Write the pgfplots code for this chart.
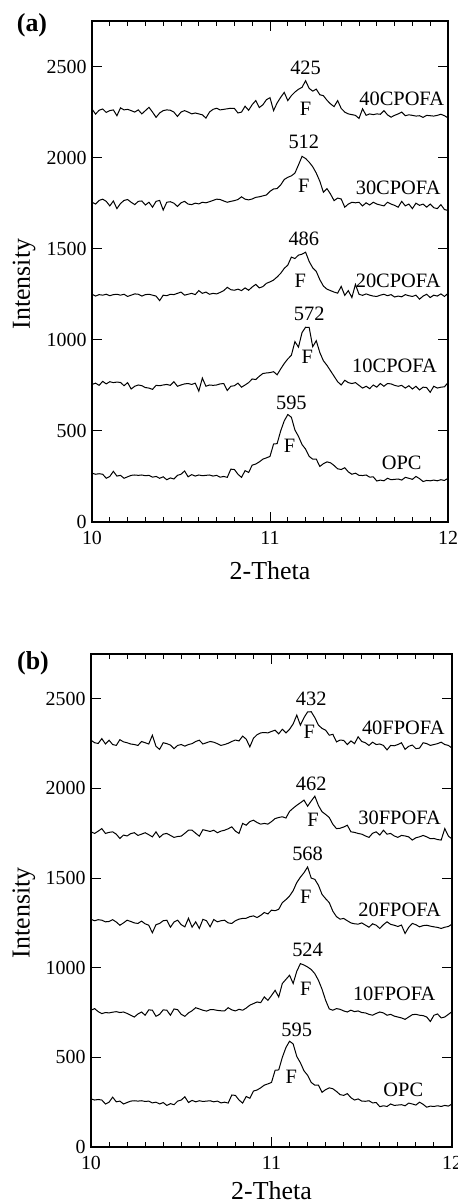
\documentclass[border=0pt]{standalone}
\usepackage{fontspec}
\setmainfont{Liberation Serif}
\usepackage{pgfplots}
\pgfplotsset{compat=1.18}

\pgfplotsset{xrd/.style={
    scale only axis, xmin=10, xmax=12, ymin=0, ymax=2750,
    xtick={10,11,12}, minor x tick num=9, ytick={0,500,...,2500},
    tick align=inside, tick pos=both,
    major tick length=10bp, minor tick length=5bp,
    axis line style={line width=1.2bp},
    every tick/.style={black, line width=1bp},
    tick label style={font=\fontsize{20}{24}\selectfont},
    /pgf/number format/assume math mode=true, /pgf/number format/1000 sep={},
    yticklabel style={xshift=-2bp}, xticklabel style={yshift=-6bp},
    xlabel={2-Theta}, ylabel={Intensity},
    clip=false,
  },
  xrdline/.style={black, line width=1bp, no markers},
}
\tikzset{lbl/.style={font=\fontsize{20.5}{24}\selectfont, inner sep=0pt},
  axlbl/.style={font=\fontsize{26}{30}\selectfont, anchor=center, inner sep=0pt}}

\begin{document}
\begin{tikzpicture}
\useasboundingbox (0,0) rectangle (458bp,1203bp);

\node[font=\fontsize{26}{30}\selectfont\bfseries] at (32bp,1178bp) {(a)};
\node[font=\fontsize{26}{30}\selectfont\bfseries] at (33bp,540bp) {(b)};

% ---------- panel (a) ----------
\begin{axis}[xrd, width=356bp, height=501bp, at={(92bp,681bp)}, anchor=south west,
    every axis x label/.style={at={(axis description cs:0.5,-0.097)}, axlbl},
    every axis y label/.style={at={(axis description cs:-0.191,0.475)}, axlbl, rotate=90}]
  % OPC
  \addplot[xrdline] coordinates {(10.00,268)(10.02,262)(10.04,265)(10.06,262)(10.08,240)(10.10,250)(10.12,278)(10.14,252)(10.16,256)(10.18,240)(10.20,248)(10.22,256)(10.24,258)(10.26,256)(10.28,258)(10.30,254)(10.32,256)(10.34,246)(10.36,250)(10.38,240)(10.40,248)(10.42,232)(10.44,242)(10.46,236)(10.48,256)(10.50,262)(10.52,280)(10.54,248)(10.56,260)(10.58,252)(10.60,258)(10.62,254)(10.64,256)(10.66,258)(10.68,252)(10.70,256)(10.72,246)(10.74,250)(10.76,245)(10.78,290)(10.80,288)(10.82,262)(10.84,245)(10.86,282)(10.88,272)(10.90,312)(10.92,318)(10.94,330)(10.96,345)(10.98,352)(11.00,360)(11.02,428)(11.04,430)(11.06,500)(11.08,555)(11.10,590)(11.12,575)(11.14,505)(11.16,470)(11.18,425)(11.20,400)(11.22,360)(11.24,345)(11.26,345)(11.28,305)(11.30,320)(11.32,330)(11.34,325)(11.36,310)(11.38,292)(11.40,288)(11.42,298)(11.44,275)(11.46,262)(11.48,268)(11.50,256)(11.52,255)(11.54,258)(11.56,246)(11.58,248)(11.60,225)(11.62,230)(11.64,226)(11.66,240)(11.68,232)(11.70,234)(11.72,236)(11.74,230)(11.76,245)(11.78,240)(11.80,234)(11.82,250)(11.84,238)(11.86,222)(11.88,228)(11.90,226)(11.92,230)(11.94,226)(11.96,232)(11.98,228)(12.00,240)};
  % 10CPOFA
  \addplot[xrdline] coordinates {(10.00,755)(10.02,762)(10.04,750)(10.06,772)(10.08,758)(10.10,770)(10.12,765)(10.14,768)(10.16,766)(10.18,748)(10.20,765)(10.22,730)(10.24,745)(10.26,752)(10.28,748)(10.30,738)(10.32,735)(10.34,728)(10.36,750)(10.38,748)(10.40,752)(10.42,755)(10.44,750)(10.46,770)(10.48,745)(10.50,752)(10.52,758)(10.54,760)(10.56,755)(10.58,762)(10.60,718)(10.62,790)(10.64,745)(10.66,752)(10.68,750)(10.70,752)(10.72,758)(10.74,760)(10.76,722)(10.78,745)(10.80,748)(10.82,762)(10.84,740)(10.86,752)(10.88,765)(10.90,785)(10.92,782)(10.94,800)(10.96,815)(10.98,818)(11.00,820)(11.02,825)(11.04,808)(11.06,840)(11.08,870)(11.10,895)(11.12,915)(11.14,990)(11.16,960)(11.18,1040)(11.20,1069)(11.22,1068)(11.24,962)(11.26,995)(11.28,930)(11.30,885)(11.32,860)(11.34,830)(11.36,800)(11.38,770)(11.40,752)(11.42,778)(11.44,765)(11.46,760)(11.48,765)(11.50,750)(11.52,735)(11.54,745)(11.56,732)(11.58,752)(11.60,740)(11.62,760)(11.64,745)(11.66,760)(11.68,758)(11.70,750)(11.72,745)(11.74,750)(11.76,735)(11.78,748)(11.80,730)(11.82,745)(11.84,725)(11.86,740)(11.88,738)(11.90,712)(11.92,745)(11.94,735)(11.96,740)(11.98,742)(12.00,765)};
  % 20CPOFA
  \addplot[xrdline] coordinates {(10.00,1250)(10.02,1240)(10.04,1248)(10.06,1245)(10.08,1250)(10.10,1242)(10.12,1248)(10.14,1250)(10.16,1245)(10.18,1250)(10.20,1238)(10.22,1245)(10.24,1252)(10.26,1250)(10.28,1240)(10.30,1248)(10.32,1250)(10.34,1245)(10.36,1240)(10.38,1215)(10.40,1245)(10.42,1242)(10.44,1250)(10.46,1248)(10.48,1255)(10.50,1262)(10.52,1245)(10.54,1250)(10.56,1255)(10.58,1248)(10.60,1270)(10.62,1255)(10.64,1262)(10.66,1250)(10.68,1255)(10.70,1252)(10.72,1260)(10.74,1270)(10.76,1288)(10.78,1275)(10.80,1272)(10.82,1278)(10.84,1270)(10.86,1285)(10.88,1272)(10.90,1290)(10.92,1304)(10.94,1285)(10.96,1292)(10.98,1310)(11.00,1318)(11.02,1328)(11.04,1345)(11.06,1365)(11.08,1392)(11.10,1410)(11.12,1454)(11.14,1446)(11.16,1465)(11.18,1470)(11.20,1481)(11.22,1430)(11.24,1395)(11.26,1375)(11.28,1330)(11.30,1295)(11.32,1278)(11.34,1270)(11.36,1262)(11.38,1256)(11.40,1293)(11.42,1244)(11.44,1270)(11.46,1232)(11.48,1304)(11.50,1250)(11.52,1244)(11.54,1252)(11.56,1245)(11.58,1240)(11.60,1238)(11.62,1245)(11.64,1250)(11.66,1242)(11.68,1248)(11.70,1235)(11.72,1240)(11.74,1236)(11.76,1248)(11.78,1242)(11.80,1238)(11.82,1245)(11.84,1223)(11.86,1240)(11.88,1250)(11.90,1232)(11.92,1245)(11.94,1240)(11.96,1252)(11.98,1238)(12.00,1255)};
  % 30CPOFA
  \addplot[xrdline] coordinates {(10.00,1755)(10.02,1745)(10.04,1765)(10.06,1772)(10.08,1760)(10.10,1735)(10.12,1762)(10.14,1720)(10.16,1748)(10.18,1765)(10.20,1770)(10.22,1755)(10.24,1742)(10.26,1760)(10.28,1762)(10.30,1740)(10.32,1755)(10.34,1728)(10.36,1760)(10.38,1765)(10.40,1712)(10.42,1755)(10.44,1758)(10.46,1750)(10.48,1732)(10.50,1752)(10.52,1760)(10.54,1745)(10.56,1742)(10.58,1750)(10.60,1746)(10.62,1755)(10.64,1752)(10.66,1758)(10.68,1765)(10.70,1772)(10.72,1770)(10.74,1762)(10.76,1755)(10.78,1760)(10.80,1764)(10.82,1770)(10.84,1785)(10.86,1772)(10.88,1768)(10.90,1773)(10.92,1782)(10.94,1785)(10.96,1790)(10.98,1795)(11.00,1815)(11.02,1828)(11.04,1830)(11.06,1850)(11.08,1880)(11.10,1892)(11.12,1900)(11.14,1915)(11.16,1960)(11.18,2007)(11.20,1995)(11.22,1975)(11.24,1950)(11.26,1915)(11.28,1870)(11.30,1810)(11.32,1830)(11.34,1800)(11.36,1764)(11.38,1778)(11.40,1773)(11.42,1728)(11.44,1745)(11.46,1755)(11.48,1752)(11.50,1755)(11.52,1735)(11.54,1752)(11.56,1740)(11.58,1755)(11.60,1745)(11.62,1740)(11.64,1735)(11.66,1755)(11.68,1745)(11.70,1738)(11.72,1728)(11.74,1760)(11.76,1735)(11.78,1745)(11.80,1720)(11.82,1750)(11.84,1738)(11.86,1745)(11.88,1728)(11.90,1745)(11.92,1725)(11.94,1720)(11.96,1742)(11.98,1715)(12.00,1710)};
  % 40CPOFA
  \addplot[xrdline] coordinates {(10.00,2267)(10.02,2239)(10.04,2260)(10.06,2267)(10.08,2248)(10.10,2258)(10.12,2262)(10.14,2230)(10.16,2273)(10.18,2262)(10.20,2265)(10.22,2258)(10.24,2250)(10.26,2262)(10.28,2240)(10.30,2258)(10.32,2276)(10.34,2250)(10.36,2221)(10.38,2245)(10.40,2258)(10.42,2262)(10.44,2260)(10.46,2250)(10.48,2226)(10.50,2250)(10.52,2258)(10.54,2250)(10.56,2240)(10.58,2245)(10.60,2240)(10.62,2235)(10.64,2217)(10.66,2250)(10.68,2265)(10.70,2271)(10.72,2262)(10.74,2265)(10.76,2268)(10.78,2271)(10.80,2270)(10.82,2245)(10.84,2250)(10.86,2282)(10.88,2260)(10.90,2291)(10.92,2313)(10.94,2275)(10.96,2290)(10.98,2318)(11.00,2329)(11.02,2258)(11.04,2300)(11.06,2331)(11.08,2358)(11.10,2313)(11.12,2340)(11.14,2360)(11.16,2375)(11.18,2386)(11.20,2422)(11.22,2380)(11.24,2365)(11.26,2376)(11.28,2345)(11.30,2340)(11.32,2315)(11.34,2295)(11.36,2280)(11.38,2313)(11.40,2270)(11.42,2250)(11.44,2240)(11.46,2236)(11.48,2232)(11.50,2215)(11.52,2268)(11.54,2232)(11.56,2240)(11.58,2236)(11.60,2240)(11.62,2238)(11.64,2258)(11.66,2235)(11.68,2222)(11.70,2232)(11.72,2240)(11.74,2250)(11.76,2230)(11.78,2235)(11.80,2232)(11.82,2228)(11.84,2230)(11.86,2221)(11.88,2232)(11.90,2230)(11.92,2228)(11.94,2232)(11.96,2238)(11.98,2230)(12.00,2218)};

  \node[lbl] at (axis cs:11.12,652) {595};
  \node[lbl] at (axis cs:11.11,416) {F};
  \node[lbl] at (axis cs:11.74,323) {OPC};
  \node[lbl] at (axis cs:11.22,1145) {572};
  \node[lbl] at (axis cs:11.21,904) {F};
  \node[lbl] at (axis cs:11.70,855) {10CPOFA};
  \node[lbl] at (axis cs:11.19,1556) {486};
  \node[lbl] at (axis cs:11.17,1326) {F};
  \node[lbl] at (axis cs:11.72,1326) {20CPOFA};
  \node[lbl] at (axis cs:11.19,2088) {512};
  \node[lbl] at (axis cs:11.19,1847) {F};
  \node[lbl] at (axis cs:11.72,1836) {30CPOFA};
  \node[lbl] at (axis cs:11.20,2493) {425};
  \node[lbl] at (axis cs:11.20,2268) {F};
  \node[lbl] at (axis cs:11.74,2323) {40CPOFA};
\end{axis}

% ---------- panel (b) ----------
\begin{axis}[xrd, width=361bp, height=493bp, at={(91bp,56bp)}, anchor=south west,
    every axis x label/.style={at={(axis description cs:0.5,-0.088)}, axlbl},
    every axis y label/.style={at={(axis description cs:-0.186,0.475)}, axlbl, rotate=90}]
  % OPC
  \addplot[xrdline] coordinates {(10.00,268)(10.02,262)(10.04,265)(10.06,262)(10.08,240)(10.10,250)(10.12,278)(10.14,252)(10.16,256)(10.18,240)(10.20,248)(10.22,256)(10.24,258)(10.26,256)(10.28,258)(10.30,254)(10.32,256)(10.34,246)(10.36,250)(10.38,240)(10.40,248)(10.42,232)(10.44,242)(10.46,236)(10.48,256)(10.50,262)(10.52,280)(10.54,248)(10.56,260)(10.58,252)(10.60,258)(10.62,254)(10.64,256)(10.66,258)(10.68,252)(10.70,256)(10.72,246)(10.74,250)(10.76,245)(10.78,290)(10.80,288)(10.82,262)(10.84,245)(10.86,282)(10.88,272)(10.90,312)(10.92,318)(10.94,330)(10.96,345)(10.98,352)(11.00,360)(11.02,428)(11.04,430)(11.06,500)(11.08,555)(11.10,590)(11.12,575)(11.14,505)(11.16,470)(11.18,425)(11.20,400)(11.22,360)(11.24,345)(11.26,345)(11.28,305)(11.30,320)(11.32,330)(11.34,325)(11.36,310)(11.38,292)(11.40,288)(11.42,298)(11.44,275)(11.46,262)(11.48,268)(11.50,256)(11.52,255)(11.54,258)(11.56,246)(11.58,248)(11.60,225)(11.62,230)(11.64,226)(11.66,240)(11.68,232)(11.70,234)(11.72,236)(11.74,230)(11.76,245)(11.78,240)(11.80,234)(11.82,250)(11.84,238)(11.86,222)(11.88,228)(11.90,226)(11.92,230)(11.94,226)(11.96,232)(11.98,228)(12.00,240)};
  % 10FPOFA
  \addplot[xrdline] coordinates {(10.00,763)(10.02,772)(10.04,755)(10.06,744)(10.08,750)(10.10,748)(10.12,752)(10.14,755)(10.16,750)(10.18,753)(10.20,745)(10.22,735)(10.24,725)(10.26,742)(10.28,753)(10.30,735)(10.32,765)(10.34,763)(10.36,729)(10.38,740)(10.40,765)(10.42,763)(10.44,735)(10.46,770)(10.48,766)(10.50,740)(10.52,729)(10.54,748)(10.56,760)(10.58,777)(10.60,770)(10.62,763)(10.64,758)(10.66,766)(10.68,766)(10.70,762)(10.72,760)(10.74,759)(10.76,777)(10.78,765)(10.80,759)(10.82,768)(10.84,763)(10.86,775)(10.88,791)(10.90,800)(10.92,809)(10.94,805)(10.96,837)(10.98,818)(11.00,845)(11.02,874)(11.04,837)(11.06,912)(11.08,935)(11.10,958)(11.12,912)(11.14,980)(11.16,1023)(11.18,1015)(11.20,1004)(11.22,990)(11.24,967)(11.26,930)(11.28,880)(11.30,818)(11.32,770)(11.34,763)(11.36,772)(11.38,768)(11.40,759)(11.42,753)(11.44,763)(11.46,755)(11.48,759)(11.50,750)(11.52,748)(11.54,740)(11.56,735)(11.58,745)(11.60,753)(11.62,748)(11.64,735)(11.66,740)(11.68,730)(11.70,725)(11.72,720)(11.74,712)(11.76,725)(11.78,738)(11.80,740)(11.82,735)(11.84,733)(11.86,725)(11.88,700)(11.90,735)(11.92,742)(11.94,720)(11.96,725)(11.98,740)(12.00,755)};
  % 20FPOFA
  \addplot[xrdline] coordinates {(10.00,1270)(10.02,1262)(10.04,1268)(10.06,1265)(10.08,1256)(10.10,1258)(10.12,1268)(10.14,1255)(10.16,1237)(10.18,1250)(10.20,1265)(10.22,1258)(10.24,1250)(10.26,1247)(10.28,1260)(10.30,1245)(10.32,1237)(10.34,1195)(10.36,1240)(10.38,1247)(10.40,1262)(10.42,1265)(10.44,1226)(10.46,1255)(10.48,1265)(10.50,1240)(10.52,1228)(10.54,1276)(10.56,1226)(10.58,1256)(10.60,1219)(10.62,1270)(10.64,1262)(10.66,1228)(10.68,1269)(10.70,1256)(10.72,1262)(10.74,1265)(10.76,1250)(10.78,1247)(10.80,1262)(10.82,1271)(10.84,1275)(10.86,1276)(10.88,1285)(10.90,1289)(10.92,1280)(10.94,1292)(10.96,1308)(10.98,1300)(11.00,1321)(11.02,1318)(11.04,1326)(11.06,1363)(11.08,1380)(11.10,1400)(11.12,1430)(11.14,1475)(11.16,1505)(11.18,1530)(11.20,1562)(11.22,1500)(11.24,1493)(11.26,1460)(11.28,1409)(11.30,1385)(11.32,1363)(11.34,1315)(11.36,1285)(11.38,1271)(11.40,1275)(11.42,1262)(11.44,1250)(11.46,1245)(11.48,1243)(11.50,1250)(11.52,1238)(11.54,1226)(11.56,1245)(11.58,1237)(11.60,1219)(11.62,1240)(11.64,1256)(11.66,1242)(11.68,1237)(11.70,1230)(11.72,1238)(11.74,1191)(11.76,1225)(11.78,1247)(11.80,1240)(11.82,1228)(11.84,1235)(11.86,1237)(11.88,1232)(11.90,1228)(11.92,1225)(11.94,1219)(11.96,1226)(11.98,1230)(12.00,1243)};
  % 30FPOFA
  \addplot[xrdline] coordinates {(10.00,1758)(10.02,1749)(10.04,1762)(10.06,1776)(10.08,1749)(10.10,1755)(10.12,1758)(10.14,1745)(10.16,1721)(10.18,1740)(10.20,1735)(10.22,1748)(10.24,1753)(10.26,1738)(10.28,1745)(10.30,1753)(10.32,1742)(10.34,1730)(10.36,1758)(10.38,1727)(10.40,1745)(10.42,1749)(10.44,1738)(10.46,1727)(10.48,1732)(10.50,1734)(10.52,1750)(10.54,1767)(10.56,1767)(10.58,1750)(10.60,1734)(10.62,1770)(10.64,1765)(10.66,1760)(10.68,1767)(10.70,1753)(10.72,1762)(10.74,1767)(10.76,1775)(10.78,1786)(10.80,1762)(10.82,1749)(10.84,1805)(10.86,1795)(10.88,1815)(10.90,1823)(10.92,1810)(10.94,1801)(10.96,1805)(10.98,1801)(11.00,1815)(11.02,1832)(11.04,1838)(11.06,1842)(11.08,1835)(11.10,1872)(11.12,1890)(11.14,1906)(11.16,1920)(11.18,1935)(11.20,1901)(11.22,1930)(11.24,1957)(11.26,1905)(11.28,1870)(11.30,1855)(11.32,1838)(11.34,1800)(11.36,1776)(11.38,1778)(11.40,1785)(11.42,1795)(11.44,1758)(11.46,1755)(11.48,1749)(11.50,1745)(11.52,1735)(11.54,1727)(11.56,1750)(11.58,1758)(11.60,1740)(11.62,1767)(11.64,1745)(11.66,1749)(11.68,1735)(11.70,1727)(11.72,1738)(11.74,1735)(11.76,1730)(11.78,1712)(11.80,1725)(11.82,1730)(11.84,1738)(11.86,1730)(11.88,1720)(11.90,1721)(11.92,1715)(11.94,1712)(11.96,1776)(11.98,1734)(12.00,1718)};
  % 40FPOFA
  \addplot[xrdline] coordinates {(10.00,2269)(10.02,2255)(10.04,2251)(10.06,2278)(10.08,2248)(10.10,2269)(10.12,2245)(10.14,2240)(10.16,2272)(10.18,2260)(10.20,2255)(10.22,2248)(10.24,2245)(10.26,2240)(10.28,2262)(10.30,2255)(10.32,2248)(10.34,2297)(10.36,2235)(10.38,2218)(10.40,2255)(10.42,2250)(10.44,2242)(10.46,2222)(10.48,2240)(10.50,2245)(10.52,2236)(10.54,2245)(10.56,2250)(10.58,2262)(10.60,2269)(10.62,2248)(10.64,2255)(10.66,2262)(10.68,2258)(10.70,2250)(10.72,2240)(10.74,2245)(10.76,2252)(10.78,2262)(10.80,2270)(10.82,2265)(10.84,2292)(10.86,2275)(10.88,2232)(10.90,2280)(10.92,2300)(10.94,2310)(10.96,2312)(10.98,2310)(11.00,2318)(11.02,2325)(11.04,2305)(11.06,2330)(11.08,2310)(11.10,2330)(11.12,2360)(11.14,2409)(11.16,2353)(11.18,2395)(11.20,2427)(11.22,2428)(11.24,2395)(11.26,2353)(11.28,2335)(11.30,2325)(11.32,2297)(11.34,2302)(11.36,2260)(11.38,2270)(11.40,2268)(11.42,2245)(11.44,2265)(11.46,2250)(11.48,2288)(11.50,2262)(11.52,2255)(11.54,2240)(11.56,2258)(11.58,2245)(11.60,2248)(11.62,2240)(11.64,2215)(11.66,2240)(11.68,2238)(11.70,2245)(11.72,2255)(11.74,2218)(11.76,2235)(11.78,2242)(11.80,2222)(11.82,2225)(11.84,2255)(11.86,2250)(11.88,2240)(11.90,2245)(11.92,2250)(11.94,2258)(11.96,2245)(11.98,2240)(12.00,2225)};

  \node[lbl] at (axis cs:11.14,651) {595};
  \node[lbl] at (axis cs:11.11,389) {F};
  \node[lbl] at (axis cs:11.73,321) {OPC};
  \node[lbl] at (axis cs:11.20,1098) {524};
  \node[lbl] at (axis cs:11.19,885) {F};
  \node[lbl] at (axis cs:11.68,856) {10FPOFA};
  \node[lbl] at (axis cs:11.20,1633) {568};
  \node[lbl] at (axis cs:11.19,1394) {F};
  \node[lbl] at (axis cs:11.71,1321) {20FPOFA};
  \node[lbl] at (axis cs:11.22,2024) {462};
  \node[lbl] at (axis cs:11.23,1823) {F};
  \node[lbl] at (axis cs:11.71,1834) {30FPOFA};
  \node[lbl] at (axis cs:11.22,2498) {432};
  \node[lbl] at (axis cs:11.21,2314) {F};
  \node[lbl] at (axis cs:11.73,2336) {40FPOFA};
\end{axis}
\end{tikzpicture}
\end{document}
